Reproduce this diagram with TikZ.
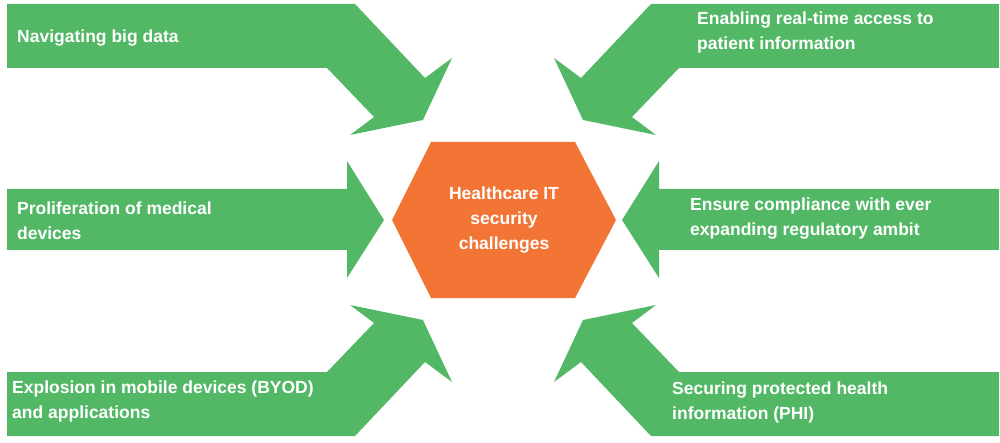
\documentclass[tikz,border=0pt]{standalone}
\usepackage{fontspec}
\setmainfont{Liberation Sans}
\definecolor{grn}{HTML}{52B866}
\definecolor{org}{HTML}{F27535}
\begin{document}
\begin{tikzpicture}[x=1pt,y=-1pt,
  arr/.style={fill=grn,draw=none},
  lbl/.style={text=white,font=\bfseries\fontsize{17.5}{25}\selectfont,align=left,anchor=west,inner sep=0pt}]
\useasboundingbox (0,0) rectangle (1000,443);
% hexagon
\fill[org] (392,220) -- (431,142) -- (575,142) -- (616,220) -- (575,298) -- (431,298) -- cycle;
\node[text=white,font=\bfseries\fontsize{17.5}{25}\selectfont,align=center] (hub) at (504,220) {Healthcare IT\\security\\challenges};
% top-left
\fill[arr] (7,4) -- (355,4) -- (425,78) -- (452,58) -- (423,120) -- (350,135) -- (374,117) -- (327,68) -- (7,68) -- cycle;
% bottom-left
\fill[arr] (7,436) -- (355,436) -- (425,362) -- (452,382) -- (423,320) -- (350,305) -- (374,323) -- (327,372) -- (7,372) -- cycle;
% middle-left
\fill[arr] (7,189) -- (347,189) -- (347,161) -- (384,220) -- (347,278) -- (347,250) -- (7,250) -- cycle;
% right side (mirror x' = 1006 - x)
\fill[arr] (999,4) -- (651,4) -- (581,78) -- (554,58) -- (583,120) -- (656,135) -- (632,117) -- (679,68) -- (999,68) -- cycle;
\fill[arr] (999,436) -- (651,436) -- (581,362) -- (554,382) -- (583,320) -- (656,305) -- (632,323) -- (679,372) -- (999,372) -- cycle;
\fill[arr] (999,189) -- (659,189) -- (659,161) -- (622,220) -- (659,278) -- (659,250) -- (999,250) -- cycle;
% labels
\node[lbl] (l1) at (17,38) {Navigating big data};
\node[lbl] (r1) at (697,32) {Enabling real-time access to\\patient information};
\node[lbl] (l2) at (17,221) {Proliferation of medical\\devices};
\node[lbl] (r2) at (690,219) {Ensure compliance with ever\\expanding regulatory ambit};
\node[lbl] (l3) at (12,401) {Explosion in mobile devices (BYOD)\\and applications};
\node[lbl] (r3) at (672,402) {Securing protected health\\information (PHI)};
\end{tikzpicture}
\end{document}
